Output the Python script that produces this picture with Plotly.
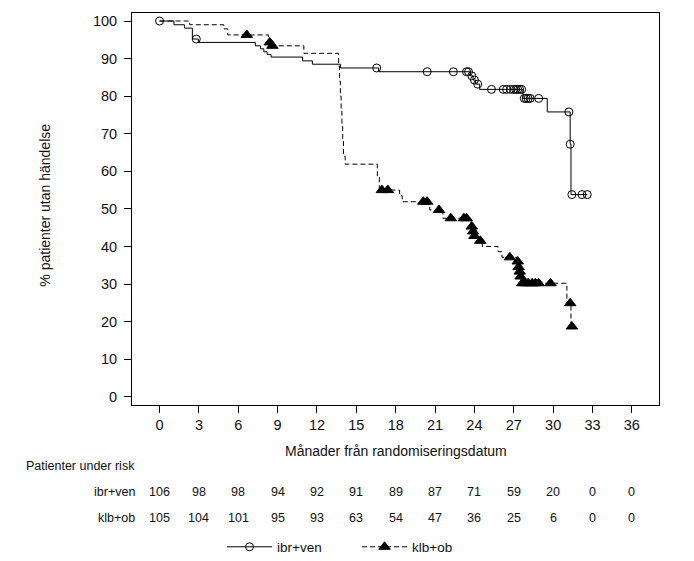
import numpy as np
import plotly.graph_objects as go

# ibr+ven: händelsetider (månader) och % utan händelse efter varje steg
ibr_t = [0, 1.1, 1.9, 2.5, 2.95, 7.3, 7.7, 7.95, 8.2, 8.5, 10.9, 11.65, 13.8, 16.7,
         23.7, 23.9, 24.1, 24.4, 27.7, 29.55, 31.3, 31.36]
ibr_s = [100, 99.0, 98.1, 95.2, 94.3, 93.4, 92.6, 91.8, 91.1, 90.4, 89.4, 88.5, 87.5, 86.5,
         85.4, 84.3, 83.2, 81.8, 79.4, 75.8, 67.2, 53.8]
ibr_cens = [0, 2.8, 16.55, 20.4, 22.4, 23.4, 23.55, 23.8, 24.0, 24.25, 25.3, 26.2, 26.45,
            26.75, 27.0, 27.15, 27.3, 27.45, 27.6, 27.8, 27.95, 28.1, 28.25, 28.9, 31.2,
            31.3, 31.43, 32.2, 32.6]

# klb+ob
klb_t = [0, 2.3, 4.9, 5.2, 8.3, 8.5, 11.0, 13.65, 13.72, 13.78, 13.84, 13.9, 13.96, 14.02,
         14.15, 16.6, 16.75, 18.3, 18.5, 20.6, 21.6, 23.75, 23.85, 23.95, 24.3, 24.6, 25.8,
         26.1, 27.25, 27.32, 27.4, 27.47, 27.55, 31.05, 31.36]
klb_s = [100, 99.0, 97.9, 96.3, 94.3, 93.4, 91.4, 88.0, 84.0, 80.0, 76.0, 72.0, 68.0, 64.0,
         61.9, 58.5, 55.0, 53.5, 51.9, 49.7, 47.5, 45.3, 44.0, 42.8, 41.5, 40.0, 38.6,
         37.1, 36.0, 34.5, 33.3, 32.0, 30.2, 24.9, 18.7]
klb_cens = [6.65, 8.4, 8.6, 16.95, 17.4, 20.1, 20.4, 21.3, 22.2, 23.2, 23.4, 23.8, 23.9,
            24.0, 24.45, 26.7, 27.3, 27.37, 27.45, 27.52, 27.65, 27.87, 28.1, 28.4, 28.65,
            28.9, 29.8, 31.3, 31.43]

# patienter under risk
risk_t = [0, 3, 6, 9, 12, 15, 18, 21, 24, 27, 30, 33, 36]
risk_ibr = [106, 98, 98, 94, 92, 91, 89, 87, 71, 59, 20, 0, 0]
risk_klb = [105, 104, 101, 95, 93, 63, 54, 47, 36, 25, 6, 0, 0]

FONT = "Liberation Sans, Arial, sans-serif"
INK = "#111111"


def step_value(times, surv, t):
    i = np.searchsorted(times, t, side="right") - 1
    return np.asarray(surv)[i]


fig = go.Figure()

groups = [
    ("ibr+ven", ibr_t, ibr_s, ibr_cens, "solid", "circle-open", 8),
    ("klb+ob", klb_t, klb_s, klb_cens, "5px,3px", "triangle-up", 10),
]

for name, t, s, cens, dash, sym, msize in groups:
    xs = list(t) + [max(cens)]
    ys = list(s) + [s[-1]]
    fig.add_trace(go.Scatter(
        x=xs, y=ys, mode="lines", line_shape="hv",
        line=dict(color="black", width=1, dash=dash),
        showlegend=False, hoverinfo="skip",
    ))
    fig.add_trace(go.Scatter(
        x=cens, y=step_value(t, s, cens), mode="markers",
        marker=dict(symbol=sym, size=msize, color="black",
                    line=dict(color="black", width=1)),
        showlegend=False,
    ))
    # legend entry
    fig.add_trace(go.Scatter(
        x=[None], y=[None], mode="lines+markers", name=name,
        line=dict(color="black", width=1, dash=dash),
        marker=dict(symbol=sym, size=msize, color="black",
                    line=dict(color="black", width=1)),
    ))

ann = []
ann.append(dict(text="Månader från randomiseringsdatum", x=0.5, y=-0.118,
                xref="paper", yref="paper", showarrow=False,
                font=dict(size=14, color=INK), xanchor="center", yanchor="middle"))
ann.append(dict(text="% patienter utan händelse", x=-0.164, y=0.51,
                xref="paper", yref="paper", showarrow=False, textangle=-90,
                font=dict(size=14, color=INK), xanchor="center", yanchor="middle"))
ann.append(dict(text="Patienter under risk", x=-1.7, y=-0.1546,
                xref="x", yref="paper", showarrow=False,
                font=dict(size=12.5, color=INK), xanchor="right", yanchor="middle"))
for label, vals, yy in [("ibr+ven", risk_ibr, -0.2226), ("klb+ob", risk_klb, -0.287)]:
    ann.append(dict(text=label, x=-1.7, y=yy, xref="x", yref="paper",
                    showarrow=False, font=dict(size=12.5, color=INK),
                    xanchor="right", yanchor="middle"))
    for tt, v in zip(risk_t, vals):
        ann.append(dict(text=str(v), x=tt, y=yy, xref="x", yref="paper",
                        showarrow=False, font=dict(size=12.5, color=INK),
                        xanchor="center", yanchor="middle"))

# the page puts the plot 8px in from the top-left corner
fig.update_layout(
    width=686, height=553, autosize=False,
    margin=dict(l=123.7, r=34.7, t=4.7, b=155.7, autoexpand=False),
    paper_bgcolor="white", plot_bgcolor="white",
    font=dict(family=FONT, size=14, color=INK),
    annotations=ann,
    legend=dict(orientation="h", x=0.427, y=0.0253, yref="container",
                xanchor="center", yanchor="middle",
                font=dict(size=13.5, color=INK), bgcolor="rgba(0,0,0,0)",
                itemwidth=45, entrywidth=75),
    xaxis=dict(range=[-2.1, 38.07], tickvals=risk_t, ticks="outside", ticklen=7,
               tickcolor="black", showline=True, linecolor="black", linewidth=1,
               mirror=True, showgrid=False, zeroline=False,
               tickfont=dict(size=14.5, color=INK)),
    yaxis=dict(range=[-2.2, 102.13], tickvals=list(range(0, 101, 10)), ticks="outside",
               ticklen=7, tickcolor="black", showline=True, linecolor="black",
               linewidth=1, mirror=True, showgrid=False, zeroline=False,
               ticklabelstandoff=4, tickfont=dict(size=14.5, color=INK)),
)

fig.write_html("out.html")
